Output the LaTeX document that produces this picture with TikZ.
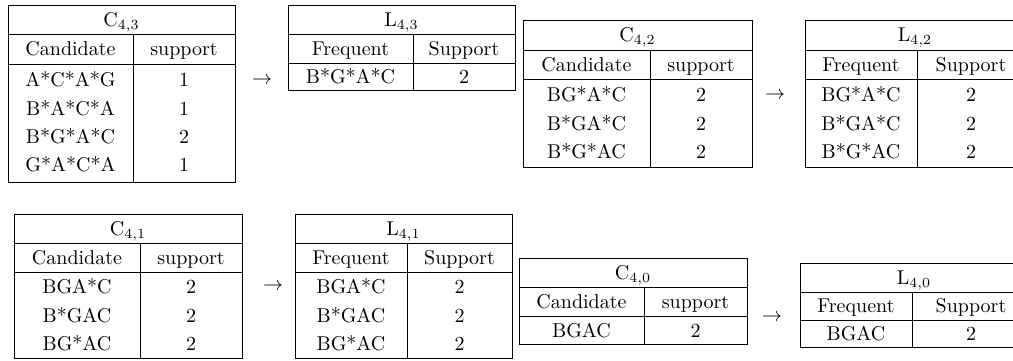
\documentclass[tikz,border=0pt]{standalone}
\usepackage{amsmath}
\usepackage{tikz}

\begin{document}
\begin{tikzpicture}[
						x=0.5pt, y=-0.5pt, % one unit = one pixel of the layout
						every node/.style={font=\normalsize},
						cell/.style={inner sep=0pt, text height=6.8pt, text depth=0pt},
						rule/.style={draw, line width=0.5pt},
						step arrow/.style={inner sep=0pt}
				]
    \useasboundingbox (0,0) rectangle (1013,360);

    % C_{4,3}
    \draw[rule] (8,5) rectangle (235,182);
    \draw[rule] (8,34) -- (235,34) (8,64) -- (235,64) (133,34) -- (133,182);
    \node[cell] (C43) at (121.5,19.5) {$\mathrm{C}_{4,3}$};
    \node[cell] (C43cand) at (70.5,49) {Candidate};
    \node[cell] (C43supp) at (184,49) {support};
    \foreach \seq/\val [count=\i] in {A*C*A*G/1, B*A*C*A/1, B*G*A*C/2, G*A*C*A/1} {
        \node[cell] (C43seq\i) at (70.5,{80+28.3*(\i-1)}) {\seq};
        \node[cell] (C43val\i) at (184,{80+28.3*(\i-1)}) {\val};
    }

    % L_{4,3}
    \draw[rule] (288,5) rectangle (515,90);
    \draw[rule] (288,34) -- (515,34) (288,63) -- (515,63) (413,34) -- (413,90);
    \node[cell] (L43) at (401.5,19.5) {$\mathrm{L}_{4,3}$};
    \node[cell] (L43freq) at (350.5,48.5) {Frequent};
    \node[cell] (L43supp) at (464,48.5) {Support};
    \node[cell] (L43seq1) at (350.5,76.5) {B*G*A*C};
    \node[cell] (L43val1) at (464,76.5) {2};

    % C_{4,2}
    \draw[rule] (523,20) rectangle (752,167);
    \draw[rule] (523,50) -- (752,50) (523,79) -- (752,79) (650,50) -- (650,167);
    \node[cell] (C42) at (637.5,35) {$\mathrm{C}_{4,2}$};
    \node[cell] (C42cand) at (586.5,64.5) {Candidate};
    \node[cell] (C42supp) at (701,64.5) {support};
    \foreach \seq/\val [count=\i] in {BG*A*C/2, B*GA*C/2, B*G*AC/2} {
        \node[cell] (C42seq\i) at (586.5,{95+28.3*(\i-1)}) {\seq};
        \node[cell] (C42val\i) at (701,{95+28.3*(\i-1)}) {\val};
    }

    % L_{4,2} (cut off at the right edge)
    \draw[rule] (1013,20) -- (805,20) -- (805,167) -- (1013,167);
    \draw[rule] (805,50) -- (1013,50) (805,79) -- (1013,79) (917,50) -- (917,167);
    \node[cell] (L42) at (915,35) {$\mathrm{L}_{4,2}$};
    \node[cell] (L42freq) at (861,64.5) {Frequent};
    \node[cell] (L42supp) at (971,64.5) {Support};
    \foreach \seq/\val [count=\i] in {BG*A*C/2, B*GA*C/2, B*G*AC/2} {
        \node[cell] (L42seq\i) at (861,{95+28.3*(\i-1)}) {\seq};
        \node[cell] (L42val\i) at (971,{95+28.3*(\i-1)}) {\val};
    }

    % C_{4,1}
    \draw[rule] (14,214) rectangle (242,358);
    \draw[rule] (14,243) -- (242,243) (14,272) -- (242,272) (140,243) -- (140,358);
    \node[cell] (C41) at (128,228.5) {$\mathrm{C}_{4,1}$};
    \node[cell] (C41cand) at (77,257.5) {Candidate};
    \node[cell] (C41supp) at (191,257.5) {support};
    \foreach \seq/\val [count=\i] in {BGA*C/2, B*GAC/2, BG*AC/2} {
        \node[cell] (C41seq\i) at (77,{287+28.3*(\i-1)}) {\seq};
        \node[cell] (C41val\i) at (191,{287+28.3*(\i-1)}) {\val};
    }

    % L_{4,1}
    \draw[rule] (295,214) rectangle (512,358);
    \draw[rule] (295,243) -- (512,243) (295,272) -- (512,272) (407,243) -- (407,358);
    \node[cell] (L41) at (403.5,228.5) {$\mathrm{L}_{4,1}$};
    \node[cell] (L41freq) at (351,257.5) {Frequent};
    \node[cell] (L41supp) at (459.5,257.5) {Support};
    \foreach \seq/\val [count=\i] in {BGA*C/2, B*GAC/2, BG*AC/2} {
        \node[cell] (L41seq\i) at (351,{287+28.3*(\i-1)}) {\seq};
        \node[cell] (L41val\i) at (459.5,{287+28.3*(\i-1)}) {\val};
    }

    % C_{4,0}
    \draw[rule] (519,258) rectangle (747,344);
    \draw[rule] (519,287) -- (747,287) (519,316) -- (747,316) (644,287) -- (644,344);
    \node[cell] (C40) at (633,272.5) {$\mathrm{C}_{4,0}$};
    \node[cell] (C40cand) at (581.5,301.5) {Candidate};
    \node[cell] (C40supp) at (695.5,301.5) {support};
    \node[cell] (C40seq1) at (581.5,331) {BGAC};
    \node[cell] (C40val1) at (695.5,331) {2};

    % L_{4,0} (cut off at the right edge)
    \draw[rule] (1013,263) -- (800,263) -- (800,347) -- (1013,347);
    \draw[rule] (800,292) -- (1013,292) (800,320) -- (1013,320) (912,292) -- (912,347);
    \node[cell] (L40) at (914,277.5) {$\mathrm{L}_{4,0}$};
    \node[cell] (L40freq) at (856,306) {Frequent};
    \node[cell] (L40supp) at (971,306) {Support};
    \node[cell] (L40seq1) at (856,333.5) {BGAC};
    \node[cell] (L40val1) at (971,333.5) {2};

    % Arrows between the steps
    \node[step arrow] (arr43) at (262,81) {$\rightarrow$};
    \node[step arrow] (arr42) at (775,96) {$\rightarrow$};
    \node[step arrow] (arr41) at (273,287) {$\rightarrow$};
    \node[step arrow] (arr40) at (772,318) {$\rightarrow$};

  \end{tikzpicture}
\end{document}
